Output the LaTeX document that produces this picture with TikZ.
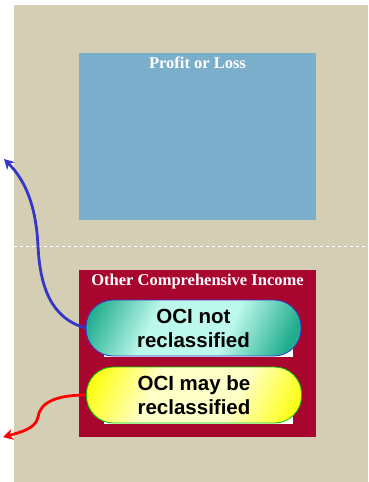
\documentclass[tikz,border=0pt]{standalone}
\usepackage{fontspec}
\setmainfont{Liberation Serif}
\newfontfamily\pillfont{Liberation Sans}
\usetikzlibrary{arrows.meta,positioning}

\definecolor{panel}{HTML}{D4CFB4}
\definecolor{plblue}{HTML}{7BAECB}
\definecolor{ocired}{HTML}{A8052F}
\definecolor{arrowblue}{HTML}{3535C8}
\definecolor{tealdark}{HTML}{22AE8E}
\definecolor{teallight}{HTML}{BDF8EC}
\definecolor{yellowdark}{HTML}{FFFF10}
\definecolor{yellowlight}{HTML}{FFFFC8}

\pgfdeclarehorizontalshading{tealshade}{100bp}{color(0bp)=(tealdark); color(20bp)=(tealdark); color(38bp)=(teallight); color(60bp)=(teallight); color(78bp)=(tealdark); color(100bp)=(tealdark)}
\pgfdeclarehorizontalshading{yellowshade}{100bp}{color(0bp)=(yellowdark); color(20bp)=(yellowdark); color(38bp)=(yellowlight); color(62bp)=(yellowlight); color(80bp)=(yellowdark); color(100bp)=(yellowdark)}

\tikzset{
  pill/.style={rounded corners=27pt, minimum width=215pt, minimum height=56pt, align=center, font=\pillfont\bfseries\fontsize{20.5}{24}\selectfont, inner sep=0pt},
  boxtitle/.style={text=white, font=\bfseries\fontsize{16.5}{18}\selectfont, inner sep=0pt},
  flow/.style={line width=2.8pt, -{Stealth[length=10pt,width=11pt]}}
}

\begin{document}
\begin{tikzpicture}[x=1pt, y=-1pt]
        \useasboundingbox (0,0) rectangle (368,482);
        % background
        \fill[panel] (14,5) rectangle (368,482);
        \draw[white, dashed, line width=0.8pt] (14,246) -- (368,246);

        % Profit or Loss
        \fill[plblue] (79,53) rectangle (316,220);
        \node[boxtitle, anchor=north] (pl) at (197.5,57) {Profit or Loss};

        % OCI
        \fill[ocired] (79,270) rectangle (316,437);
        \node[boxtitle, anchor=north] (oci) at (197.5,274) {Other Comprehensive Income};
        \fill[white] (104,340) rectangle (293,357);
        \fill[white] (104,408) rectangle (293,424);
        \node[pill, draw=arrowblue, line width=0.8pt, shading=tealshade, shading angle=-25] (notrecl) at (193.5,328) {OCI not\\reclassified};
        \node[pill, draw=green!80!black, line width=0.8pt, shading=yellowshade, shading angle=-25] (mayrecl) at (194,395) {OCI may be\\reclassified};

        % arrows
        \coordinate (toPL) at (4,159);
        \coordinate (toOut) at (3,437);
        \draw[flow, arrowblue] (notrecl.west) .. controls (50,318) and (40,285) .. (38,246) .. controls (36,205) and (25,180) .. (toPL);
        \draw[flow, red] (mayrecl.west) .. controls (55,395) and (40,403) .. (38,417) .. controls (36,428) and (22,432) .. (toOut);
\end{tikzpicture}
\end{document}
